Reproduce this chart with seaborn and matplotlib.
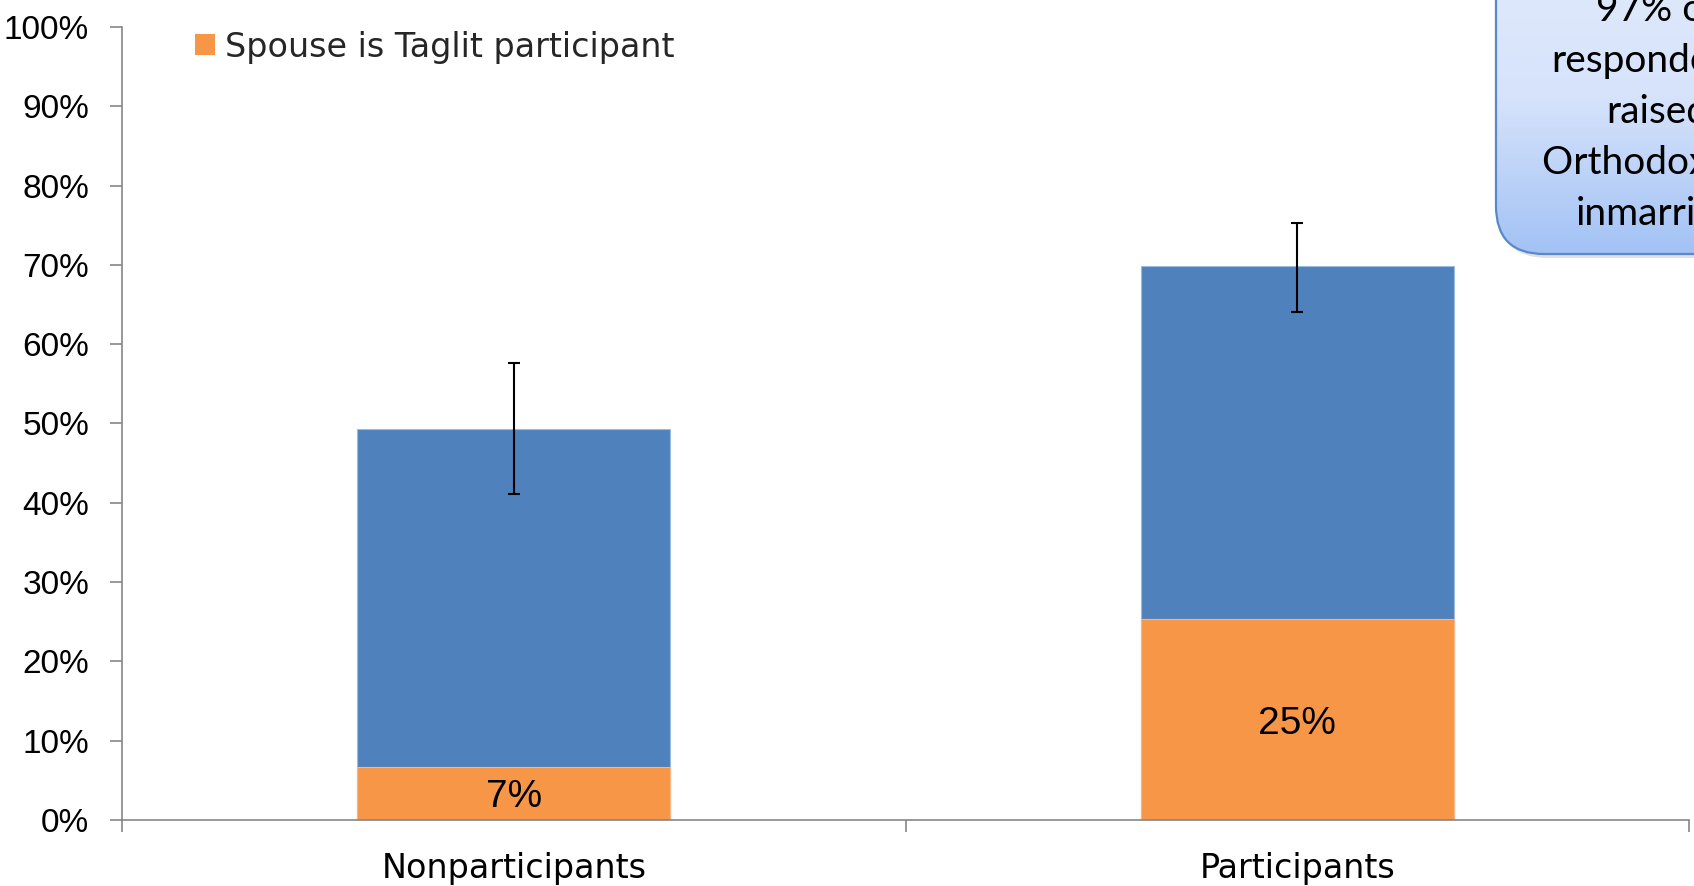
import numpy as np
import pandas as pd
import matplotlib
matplotlib.use("Agg")
import matplotlib.pyplot as plt
import matplotlib.colors as mcolors
from matplotlib.patches import FancyBboxPatch, Patch
from matplotlib.ticker import FixedLocator
import seaborn as sns

# values (percent)
groups = ["Nonparticipants", "Participants"]
inmarried_total = [49.3, 69.9]
spouse_taglit = [6.7, 25.3]
err_low = [41.1, 64.0]
err_high = [57.6, 75.3]
spouse_labels = ["7%", "25%"]
yticks = list(range(0, 101, 10))
callout = "97% of\nrespondents\nraised\nOrthodox are\ninmarried"

blue = "#4f81bd"
orange = "#f79646"
axis_gray = "#868686"

sns.set_theme(style="white")
plt.rcParams["font.family"] = ["DejaVu Sans"]
narrow = ["Liberation Sans Narrow", "Liberation Sans", "DejaVu Sans"]

W, H = 1694, 886
fig = plt.figure(figsize=(W / 100, H / 100), dpi=100)
ax = fig.add_axes([122 / W, 1 - 820 / H, (1689 - 122) / W, (820 - 27) / H])

df = pd.DataFrame({"group": groups, "total": inmarried_total, "spouse": spouse_taglit})

sns.barplot(data=df, x="group", y="total", color=blue, saturation=1, width=0.4,
            edgecolor="#9dbbe0", linewidth=0.8, ax=ax)
sns.barplot(data=df, x="group", y="spouse", color=orange, saturation=1, width=0.4,
            edgecolor="#f9b485", linewidth=0.8, ax=ax)

tot = np.array(inmarried_total)
yerr = [tot - np.array(err_low), np.array(err_high) - tot]
ax.errorbar(range(len(groups)), tot, yerr=yerr, fmt="none", ecolor="black",
            elinewidth=1.5, capsize=4.5, capthick=1.5, zorder=4)

labels = ax.bar_label(ax.containers[1], labels=spouse_labels, label_type="center",
                      fontsize=28, family=narrow, color="black")
for t in labels:
    t.set_verticalalignment("center_baseline")

# axes styling
ax.set_xlim(-0.5, len(groups) - 0.5)
ax.set_ylim(0, 100)
ax.set_yticks(yticks)
ax.set_yticklabels([f"{t}%" for t in yticks], family=narrow, fontsize=24)
ax.set_xlabel("")
ax.set_ylabel("")
ax.tick_params(axis="x", which="major", length=0, pad=23, labelsize=24, labelcolor="black")
ax.xaxis.set_minor_locator(FixedLocator([-0.5, 0.5, 1.5]))
ax.tick_params(axis="x", which="minor", bottom=True, length=8.6, width=1.2,
               color=axis_gray, direction="out")
ax.tick_params(axis="y", length=8.6, width=1.2, color=axis_gray, direction="out",
               pad=15, labelcolor="black", left=True)
for s in ["top", "right"]:
    ax.spines[s].set_visible(False)
for s in ["left", "bottom"]:
    ax.spines[s].set_color(axis_gray)
    ax.spines[s].set_linewidth(1.2)
    ax.spines[s].set_clip_on(False)

# legend: only the orange series
ax.legend(handles=[Patch(facecolor=orange, edgecolor="none")],
          labels=["Spouse is Taglit participant"], loc="center left",
          bbox_to_anchor=(195 / W, 1 - 47 / H), bbox_transform=fig.transFigure,
          frameon=False, fontsize=24, handlelength=0.6, handleheight=0.6,
          handletextpad=0.3, borderpad=0, borderaxespad=0)

# callout box in the top right corner (cut off by the figure edge)
ov = fig.add_axes([0, 0, 1, 1], zorder=5)
ov.set_xlim(0, W)
ov.set_ylim(H, 0)
ov.axis("off")

shadow = FancyBboxPatch((1499, -60), 400, 318, boxstyle="round,pad=0,rounding_size=48",
                        fc="#000000", ec="none", alpha=0.12)
ov.add_patch(shadow)
box = FancyBboxPatch((1496, -60), 400, 314, boxstyle="round,pad=0,rounding_size=48",
                     fc="none", ec="#5a88c8", lw=1.6, zorder=3)
ov.add_patch(box)
grad_cmap = mcolors.LinearSegmentedColormap.from_list("callout", ["#e2ebfb", "#d6e3fb", "#a2c2f5"])
grad = np.linspace(0, 1, 256).reshape(-1, 1)
img = ov.imshow(grad, extent=(1496, 1896, 254, -60), cmap=grad_cmap, aspect="auto",
                origin="upper", zorder=2)
img.set_clip_path(box)
ov.set_xlim(0, W)
ov.set_ylim(H, 0)
ov.text(1657, 112, callout, ha="center", va="center", fontsize=28,
        family=["Lato", "DejaVu Sans"], linespacing=1.52, color="black", zorder=4)

fig.savefig("out.png", dpi=100)
